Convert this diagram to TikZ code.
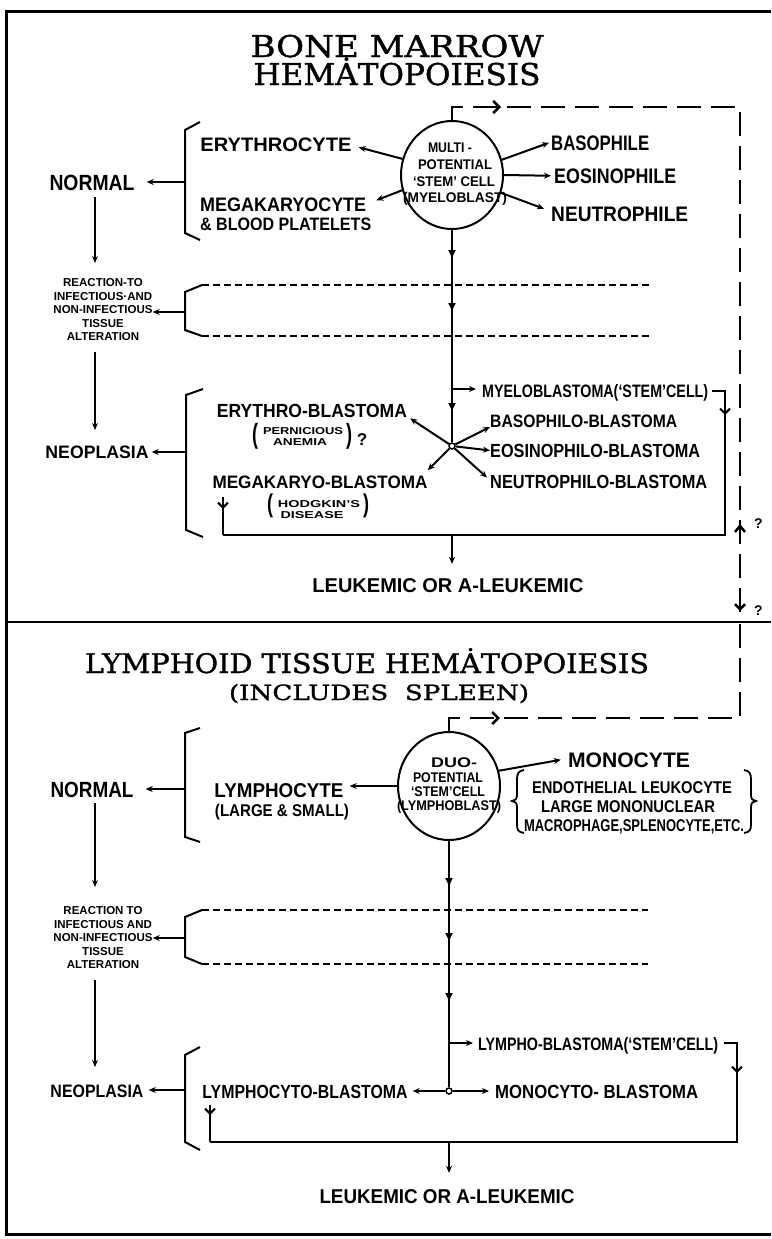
\documentclass[tikz,border=0pt]{standalone}
\usepackage{fontspec}
\usepackage{graphicx}
\usetikzlibrary{arrows.meta,decorations.markings,shapes.geometric}
\newfontfamily\lf{Liberation Sans Bold}
\newfontfamily\tf{DejaVu Serif}[FakeBold=1.2]
\newcommand\fsz[1]{\fontsize{#1}{#1}\selectfont}
\newcommand\W[2]{\resizebox{#1pt}{\height}{#2}}
\newcommand\triA{\arrow{Triangle[length=8pt,width=7pt]}}
\newcommand\barbA{\arrow{Straight Barb[length=5pt,width=10pt]}}
\newcommand\barbR{\arrowreversed{Straight Barb[length=6pt,width=10pt]}}
\newcommand\chev{\arrow{Straight Barb[length=6pt,width=12pt]}}
\begin{document}
\begin{tikzpicture}[x=1pt,y=-1pt,
 ln/.style={line width=2pt},
 arr/.style={line width=2pt,-{Stealth[length=7pt,width=6pt]}},
 lb/.style={inner sep=0pt,font=\lf\fsz{#1}},
 ttl/.style={inner sep=0pt,font=\tf\fsz{#1}},
 bigdash/.style={line width=2.5pt,dash pattern=on 24pt off 10pt},
 smalldash/.style={line width=2pt,dash pattern=on 7pt off 4pt},
 cell/.style={ellipse,draw,line width=2pt,minimum width=102pt,minimum height=108pt,inner sep=0pt},
 dmarks/.style={postaction={decorate},decoration={markings,#1}},
 react/.style={inner sep=0pt,align=center,font=\lf\fontsize{11.5}{13.5}\selectfont},
 junc/.style={circle,draw,fill=white,line width=1.5pt,inner sep=0pt,minimum size=6pt},
]
\fill[white] (0,0) rectangle (771,1239);
\useasboundingbox (0,0) rectangle (771,1239);

% frame
\draw[line width=3pt] (771,12) -- (6,12) -- (6,1234) -- (771,1234);
\draw[line width=2pt] (6,622) -- (771,622);

% ================= TOP =================
\node[ttl=30,anchor=base] (t1) at (397,57) {\W{293}{BONE MARROW}};
\node[ttl=30,anchor=base] (t2) at (397,85) {\W{287}{HEMȦTOPOIESIS}};

\node[cell] (mc) at (452,175) {};
\node[lb=14,anchor=base] (mc1) at (450,152) {\W{44}{MULTI -}};
\node[lb=14,anchor=base] (mc2) at (455,169) {\W{74}{POTENTIAL}};
\node[lb=14,anchor=base] (mc3) at (454,186) {\W{82}{‘STEM’ CELL}};
\node[lb=14,anchor=base] (mc4) at (455,202) {\W{104}{(MYELOBLAST)}};

\node[lb=19.5,anchor=base] (ery) at (276,151) {\W{151}{ERYTHROCYTE}};
\node[lb=19.5,anchor=base west] (meg) at (200,211) {\W{166}{MEGAKARYOCYTE}};
\node[lb=18,anchor=base west] (plt) at (200,230) {\W{171}{\&~BLOOD PLATELETS}};
\node[lb=21,anchor=base west] (bas) at (551,150) {\W{98}{BASOPHILE}};
\node[lb=21,anchor=base west] (eos) at (554,183) {\W{122}{EOSINOPHILE}};
\node[lb=21,anchor=base west] (neu) at (551,221) {\W{137}{NEUTROPHILE}};
\node[lb=22,anchor=base] (nor1) at (92,190) {\W{85}{NORMAL}};

\draw[arr] (mc.162) -- ([xshift=7pt,yshift=-3pt]ery.east);
\draw[arr] (mc.197) -- ([xshift=10pt,yshift=4pt]meg.east);
\draw[arr] (mc.17) -- ([xshift=-2pt]bas.west);
\draw[arr] (mc.0) -- ([xshift=-3pt]eos.west);
\draw[arr] (mc.-20) -- ([xshift=-7pt,yshift=5pt]neu.west);

\draw[ln] (200,122) -- (185,130) -- (185,233) -- (200,240);
\coordinate (nb1) at (185,182);
\draw[arr,shorten >=12pt] (nb1) -- (nb1 -| nor1.east);

% feedback dashed path
\coordinate (dtr) at (740,107);
\coordinate (dmid) at (740,622);
\coordinate (dbr) at (740,718);
\draw[bigdash,dmarks={mark=at position 62pt with {\chev},mark=at position 718pt with {\barbR},mark=at position 805pt with {\barbA}}] (mc.north) |- (dtr) -- (dmid);
\node[lb=14,anchor=base west] (q1) at (754,528) {?};
\node[lb=14,anchor=base west] (q2) at (754,615) {?};

% main vertical
\node[junc] (jx) at (452,446) {};
\draw[ln,dmarks={mark=at position 28pt with {\triA},mark=at position 81pt with {\triA},mark=at position 181pt with {\triA}}] (mc.south) -- (jx.north);

% reaction 1
\node[react] (rc1) at (103,310) {REACTION-TO\\INFECTIOUS·AND\\NON-INFECTIOUS\\TISSUE\\ALTERATION};
\draw[ln] (202,285) -- (185,292) -- (185,330) -- (202,336);
\draw[smalldash] (202,285) -- (649,285);
\draw[smalldash] (202,336) -- (649,336);
\coordinate (rb1) at (185,312);
\draw[arr] (rb1) -- (rb1 -| rc1.east);

\coordinate (v1a) at (95,197); \coordinate (v1b) at (95,263);
\draw[arr] (v1a) -- (v1b);
\coordinate (v2a) at (95,352); \coordinate (v2b) at (95,430);
\draw[arr] (v2a) -- (v2b);

% neoplasia 1
\node[lb=18,anchor=base] (neo1) at (97,458) {\W{103}{NEOPLASIA}};
\draw[ln] (203,389) -- (186,395) -- (186,530) -- (203,537);
\coordinate (nb2) at (186,452);
\draw[arr,shorten >=3pt] (nb2) -- (nb2 -| neo1.east);

\node[lb=19,anchor=base] (eryb) at (312,417) {\W{190}{ERYTHRO-BLASTOMA}};
\node[lb=10,anchor=base] (per) at (303,434) {\W{80}{PERNICIOUS}};
\node[lb=10,anchor=base] (ane) at (300,445) {\W{54}{ANEMIA}};
\node[lb=10] (pl1) at (255,436) {\resizebox*{6pt}{26pt}{(}};
\node[lb=10] (pr1) at (349,436) {\resizebox*{6pt}{26pt}{)}};
\node[lb=17,anchor=base] (q3) at (362,445) {?};

\node[lb=18,anchor=base] (megb) at (320,488) {\W{215}{MEGAKARYO-BLASTOMA}};
\node[lb=10,anchor=base] (hod) at (319,507) {\W{82}{HODGKIN’S}};
\node[lb=10,anchor=base] (dis) at (312,518) {\W{63}{DISEASE}};
\node[lb=10] (pl2) at (270,506) {\resizebox*{6pt}{24pt}{(}};
\node[lb=10] (pr2) at (366,506) {\resizebox*{6pt}{24pt}{)}};

\node[lb=18,anchor=base west] (myb) at (482,397) {\W{226}{MYELOBLASTOMA(‘STEM’CELL)}};
\node[lb=18,anchor=base west] (bab) at (490,427) {\W{187}{BASOPHILO-BLASTOMA}};
\node[lb=19,anchor=base west] (eob) at (490,457) {\W{210}{EOSINOPHILO-BLASTOMA}};
\node[lb=19,anchor=base west] (neb) at (490,488) {\W{217}{NEUTROPHILO-BLASTOMA}};

\coordinate (mbr) at (452,389);
\draw[arr,shorten >=6pt] (mbr) -- (mbr -| myb.west);
\coordinate (mre) at (712,391);
\coordinate (bxr) at (725,535);
\coordinate (bxl) at (223,535);
\draw[ln,dmarks={mark=at position 37pt with {\barbA}}] (mre) -| (bxr) -- (bxl);
\coordinate (mkd) at (223,497);
\draw[ln,dmarks={mark=at position 12pt with {\barbA}}] (mkd) -- (bxl);

\draw[arr] (jx) -- ([xshift=3pt,yshift=-8pt]eryb.east);
\draw[arr] (jx) -- (bab.base west);
\draw[arr] (jx) -- (eob.west);
\draw[arr] (jx) -- ([xshift=-3pt,yshift=-3pt]neb.north west);
\draw[arr] (jx) -- ([yshift=5pt]megb.north east);

\node[lb=20,anchor=base] (leu1) at (448,592) {\W{271}{LEUKEMIC OR A-LEUKEMIC}};
\coordinate (lk1) at (452,535);
\draw[arr,shorten >=14pt] (lk1) -- (lk1 |- leu1.north);

% ================= BOTTOM =================
\node[ttl=27,anchor=base] (t3) at (367,673) {\W{564}{LYMPHOID TISSUE HEMȦTOPOIESIS}};
\node[ttl=21,anchor=base] (t4) at (379,700) {\W{300}{(INCLUDES\ \ SPLEEN)}};

\node[cell] (lc) at (449,786) {};
\node[lb=14,anchor=base] (lc1) at (454,767) {\W{46}{DUO-}};
\node[lb=14,anchor=base] (lc2) at (448,782) {\W{70}{POTENTIAL}};
\node[lb=14,anchor=base] (lc3) at (448,796) {\W{74}{‘STEM’CELL}};
\node[lb=14,anchor=base] (lc4) at (449,810) {\W{104}{(LYMPHOBLAST)}};

\node[lb=22,anchor=base] (nor2) at (92,797) {\W{83}{NORMAL}};
\node[lb=20,anchor=base] (lym) at (279,797) {\W{129}{LYMPHOCYTE}};
\node[lb=17,anchor=base] (lys) at (282,816) {\W{134}{(LARGE \& SMALL)}};
\node[lb=21,anchor=base] (mono) at (629,767) {\W{122}{MONOCYTE}};
\node[lb=17,anchor=base] (en1) at (632,793) {\W{200}{ENDOTHELIAL LEUKOCYTE}};
\node[lb=17,anchor=base] (en2) at (628,812) {\W{174}{LARGE MONONUCLEAR}};
\node[lb=17,anchor=base] (en3) at (634,831) {\W{220}{MACROPHAGE,SPLENOCYTE,ETC.}};

\draw[line width=1.8pt] (524,770) .. controls (518,771) and (517,774) .. (517,780) -- (517,795) .. controls (517,799) and (515,801) .. (512,801) .. controls (515,801) and (517,803) .. (517,807) -- (517,824) .. controls (517,830) and (518,832) .. (524,833);
\draw[line width=1.8pt] (744,770) .. controls (750,771) and (751,774) .. (751,780) -- (751,795) .. controls (751,799) and (753,801) .. (756,801) .. controls (753,801) and (751,803) .. (751,807) -- (751,824) .. controls (751,830) and (750,832) .. (744,833);

\draw[ln] (200,728) -- (185,733) -- (185,837) -- (200,842);
\coordinate (nb3) at (185,789);
\draw[arr,shorten >=12pt] (nb3) -- (nb3 -| nor2.east);
\draw[arr,shorten >=6pt] (lc.west) -- (lc.west -| lym.east);
\draw[arr] (lc.17) -- ([xshift=-7pt]mono.west);

\draw[bigdash,dmarks={mark=at position 64pt with {\chev}}] (lc.north) |- (dbr) -- (dmid);

\coordinate (v3a) at (95,803); \coordinate (v3b) at (95,887);
\draw[arr] (v3a) -- (v3b);
\node[react] (rc2) at (103,938) {REACTION TO\\INFECTIOUS AND\\NON-INFECTIOUS\\TISSUE\\ALTERATION};
\draw[ln] (202,910) -- (185,917) -- (185,957) -- (202,964);
\draw[smalldash] (202,910) -- (648,910);
\draw[smalldash] (202,964) -- (648,964);
\coordinate (rb2) at (185,938);
\draw[arr] (rb2) -- (rb2 -| rc2.east);
\coordinate (v4a) at (95,980); \coordinate (v4b) at (95,1067);
\draw[arr] (v4a) -- (v4b);

\node[lb=18,anchor=base] (neo2) at (97,1097) {\W{93}{NEOPLASIA}};
\draw[ln] (200,1047) -- (185,1055) -- (185,1142) -- (200,1150);
\coordinate (nb4) at (185,1090);
\draw[arr,shorten >=5pt] (nb4) -- (nb4 -| neo2.east);

\node[junc] (jx2) at (449,1091) {};
\draw[ln,dmarks={mark=at position 45pt with {\triA},mark=at position 100pt with {\triA},mark=at position 160pt with {\triA}}] (lc.south) -- (jx2.north);
\node[lb=19,anchor=base] (lcb) at (305,1098) {\W{205}{LYMPHOCYTO-BLASTOMA}};
\node[lb=19,anchor=base west] (mob) at (495,1098) {\W{203}{MONOCYTO- BLASTOMA}};
\node[lb=18,anchor=base west] (lyb) at (478,1050) {\W{240}{LYMPHO-BLASTOMA(‘STEM’CELL)}};
\coordinate (lbr) at (449,1043);
\draw[arr,shorten >=5pt] (lbr) -- (lbr -| lyb.west);
\coordinate (lre) at (724,1043);
\coordinate (bxr2) at (737,1142);
\coordinate (bxl2) at (210,1142);
\draw[ln,dmarks={mark=at position 43pt with {\barbA}}] (lre) -| (bxr2) -- (bxl2);
\coordinate (lcd) at (210,1105);
\draw[ln,dmarks={mark=at position 10pt with {\barbA}}] (lcd) -- (bxl2);
\draw[arr,shorten >=5pt] (jx2) -- (jx2 -| lcb.east);
\draw[arr,shorten >=6pt] (jx2) -- (jx2 -| mob.west);
\node[lb=20,anchor=base] (leu2) at (447,1203) {\W{255}{LEUKEMIC OR A-LEUKEMIC}};
\coordinate (lk2) at (449,1142);
\draw[arr,shorten >=16pt] (lk2) -- (lk2 |- leu2.north);
\end{tikzpicture}
\end{document}
